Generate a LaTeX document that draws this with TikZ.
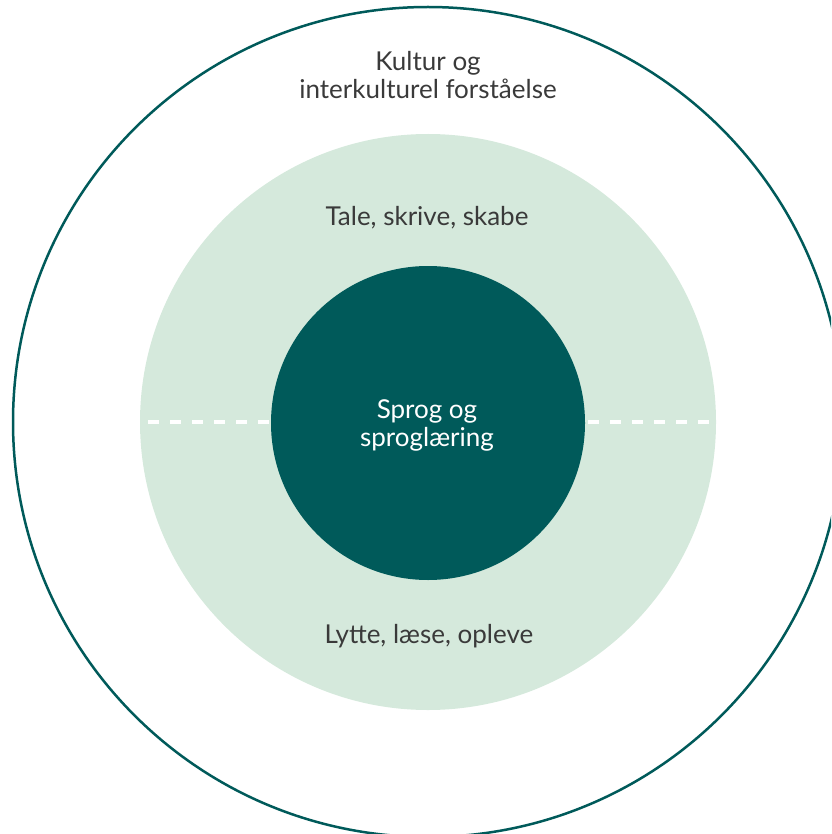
\documentclass[tikz,border=0pt]{standalone}
\usepackage{fontspec}
\setmainfont{Lato}
\definecolor{teal}{HTML}{005A5A}
\definecolor{lightg}{HTML}{D5E9DC}
\definecolor{txt}{HTML}{3A3A3A}
\begin{document}
\begin{tikzpicture}[x=1pt,y=-1pt,
  lbl/.style={font=\fontsize{26}{28}\selectfont, text=txt, align=center, inner sep=0pt},
  wlbl/.style={font=\fontsize{26}{28}\selectfont, text=white, align=center, inner sep=0pt}]
\useasboundingbox (0,0) rectangle (831,834);
\begin{scope}
\clip (0,0) rectangle (831,834);
\node[circle, draw=teal, line width=2.5pt, minimum size=830pt, inner sep=0pt] (outer) at (428,422) {};
\end{scope}
\node[circle, fill=lightg, minimum size=576pt, inner sep=0pt] (mid) at (428,422) {};
\draw[white, line width=4pt, dash pattern=on 11pt off 11pt] ([xshift=8pt]mid.west) -- ([xshift=-3pt]mid.east);
\node[circle, fill=teal, minimum size=314pt, inner sep=0pt] (inner) at (428,423) {};
\node[lbl] (kultur) at (428,75) {Kultur og\\interkulturel forståelse};
\node[lbl] (tale) at (427,218) {Tale, skrive, skabe};
\node[lbl] (lytte) at (429,636) {Lytte, læse, opleve};
\node[wlbl] (sprog) at (427,425) {Sprog og\\sproglæring};
\end{tikzpicture}
\end{document}
